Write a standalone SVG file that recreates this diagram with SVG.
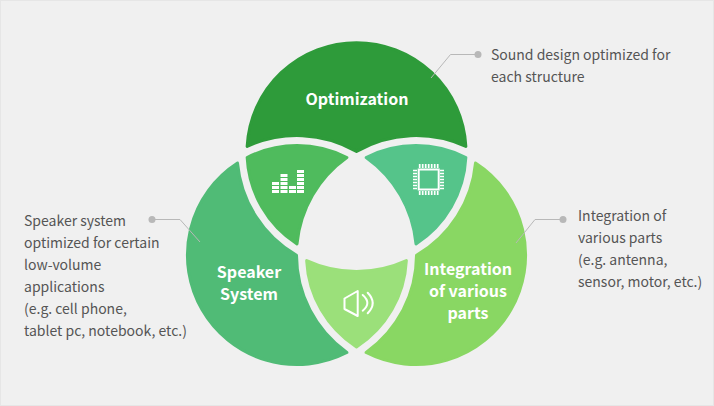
<svg xmlns="http://www.w3.org/2000/svg" width="714" height="406" viewBox="0 0 714 406">
  <style>
    .petal { stroke-width: 3; stroke-linejoin: round; }
    .caption { font-family: "Noto Sans CJK KR", "Noto Sans", sans-serif; font-size: 14px; fill: #555; }
    .title { font-family: "Noto Sans CJK KR", "Noto Sans", sans-serif; font-size: 16px; font-weight: 700; fill: #fff; text-anchor: middle; }
    .lead { fill: none; stroke: #b8b8b8; stroke-width: 1; }
    .dot { fill: #b8b8b8; }
    .glyph { fill: none; stroke: #fff; stroke-width: 2; stroke-linejoin: round; stroke-linecap: round; }
    .bars { fill: #fff; }
  </style>
  <rect x="0.5" y="0.5" width="713" height="405" fill="#f0f0f0" stroke="#e6e6e6"/>

  <g id="optimization">
    <path class="petal" fill="#2e9b3a" stroke="#2e9b3a" d="M247.15 146.4A109.5 109.5 0 0 1 465.85 146.4A119.5 119.5 0 0 0 356.5 151.37A119.5 119.5 0 0 0 247.15 146.4Z"/>
    <text class="title" x="357" y="105">Optimization</text>
  </g>

  <g id="speaker-system">
    <path class="petal" fill="#50bb76" stroke="#50bb76" d="M237.51 163.06A109.5 109.5 0 0 0 346.88 352.48A119.5 119.5 0 0 1 296.5 255.35A119.5 119.5 0 0 1 237.51 163.06Z"/>
    <text class="title" x="249" y="278">Speaker</text>
    <text class="title" x="249" y="300">System</text>
  </g>

  <g id="integration">
    <path class="petal" fill="#89d763" stroke="#89d763" d="M475.49 163.06A109.5 109.5 0 0 1 366.12 352.48A119.5 119.5 0 0 0 416.5 255.35A119.5 119.5 0 0 0 475.49 163.06Z"/>
    <text class="title" x="468" y="275">Integration</text>
    <text class="title" x="468" y="297">of various</text>
    <text class="title" x="468" y="319">parts</text>
  </g>

  <g id="overlap-sound-bars">
    <path class="petal" fill="#4fbb5d" stroke="#4fbb5d" d="M247.14 157.5A109.5 109.5 0 0 1 346.88 157.52A119.5 119.5 0 0 0 297 243.94A109.5 109.5 0 0 1 247.14 157.5Z"/>
    <g class="bars">
      <rect x="272" y="182" width="7" height="3"/><rect x="272" y="186" width="7" height="3"/><rect x="272" y="190" width="7" height="3"/>
      <rect x="280.500" y="174" width="7" height="3"/><rect x="280.500" y="178" width="7" height="3"/><rect x="280.500" y="182" width="7" height="3"/><rect x="280.500" y="186" width="7" height="3"/><rect x="280.500" y="190" width="7" height="3"/>
      <rect x="289" y="186" width="7" height="3"/><rect x="289" y="190" width="7" height="3"/>
      <rect x="297" y="170" width="7" height="3"/><rect x="297" y="174" width="7" height="3"/><rect x="297" y="178" width="7" height="3"/><rect x="297" y="182" width="7" height="3"/><rect x="297" y="186" width="7" height="3"/><rect x="297" y="190" width="7" height="3"/>
    </g>
  </g>

  <g id="overlap-chip">
    <path class="petal" fill="#55c48a" stroke="#55c48a" d="M366.12 157.52A109.5 109.5 0 0 1 465.86 157.5A109.5 109.5 0 0 1 416 243.94A119.5 119.5 0 0 0 366.12 157.52Z"/>
    <rect x="418.700" y="169.500" width="20" height="20" fill="none" stroke="#fff" stroke-width="2"/>
    <path d="M419.700 168V164M422.700 168V164M425.700 168V164M428.700 168V164M431.700 168V164M434.700 168V164M437.700 168V164M419.700 195V191M422.700 195V191M425.700 195V191M428.700 195V191M431.700 195V191M434.700 195V191M437.700 195V191M417 170.500H413M417 173.500H413M417 176.500H413M417 179.500H413M417 182.500H413M417 185.500H413M417 188.500H413M444 170.500H440M444 173.500H440M444 176.500H440M444 179.500H440M444 182.500H440M444 185.500H440M444 188.500H440" fill="none" stroke="#fff" stroke-width="1.700"/>
  </g>

  <g id="overlap-audio">
    <path class="petal" fill="#9be07a" stroke="#9be07a" d="M306.64 260.6A119.5 119.5 0 0 0 406.36 260.6A109.5 109.5 0 0 1 356.5 346.92A109.5 109.5 0 0 1 306.64 260.6Z"/>
    <path class="glyph" d="M344.500 298.500L357.700 291V316L344.500 309Z"/>
    <path class="glyph" d="M362.700 295Q372 303 362.700 310.700M367.700 292.700Q377.700 303 367.700 313.300"/>
  </g>

  <g id="connectors">
    <path class="lead" d="M431 78L450.500 54.500H478"/>
    <circle class="dot" cx="478" cy="54.500" r="3.500"/>
    <path class="lead" d="M152 219.500H180L200 242"/>
    <circle class="dot" cx="152" cy="219.500" r="3.500"/>
    <path class="lead" d="M563 219.500H535L516 243"/>
    <circle class="dot" cx="563" cy="219.500" r="3.500"/>
  </g>

  <g id="captions">
    <text class="caption" x="491" y="60">Sound design optimized for</text>
    <text class="caption" x="491" y="82">each structure</text>
    <text class="caption" x="24" y="226">Speaker system</text>
    <text class="caption" x="24" y="248">optimized for certain</text>
    <text class="caption" x="24" y="270">low-volume</text>
    <text class="caption" x="24" y="292">applications</text>
    <text class="caption" x="24" y="314">(e.g. cell phone,</text>
    <text class="caption" x="24" y="336">tablet pc, notebook, etc.)</text>
    <text class="caption" x="578" y="221">Integration of</text>
    <text class="caption" x="578" y="243">various parts</text>
    <text class="caption" x="578" y="265">(e.g. antenna,</text>
    <text class="caption" x="578" y="287">sensor, motor, etc.)</text>
  </g>
</svg>
